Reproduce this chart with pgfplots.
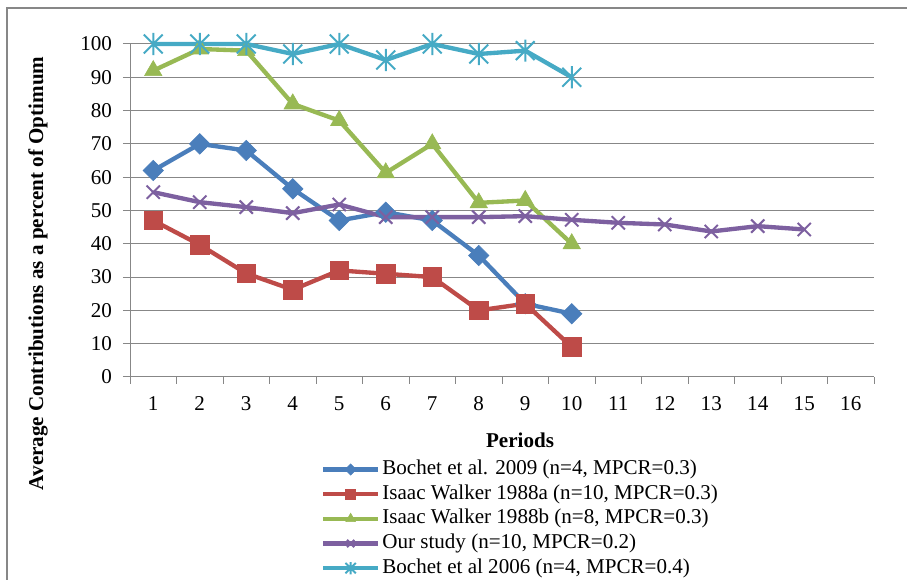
\documentclass[border=0pt]{standalone}
\usepackage{fontspec}
\setmainfont{Liberation Serif}
\usepackage{pgfplots}
\pgfplotsset{compat=1.18}
\definecolor{cBlue}{HTML}{4A7EBB}
\definecolor{cRed}{HTML}{BE4B48}
\definecolor{cGreen}{HTML}{98B954}
\definecolor{cPurple}{HTML}{7D60A0}
\definecolor{cCyan}{HTML}{46AAC5}
\definecolor{cGrid}{HTML}{878787}
\pgfdeclareplotmark{xstar}{%
 \pgfpathmoveto{\pgfqpoint{0pt}{\pgfplotmarksize}}\pgfpathlineto{\pgfqpoint{0pt}{-\pgfplotmarksize}}%
 \pgfpathmoveto{\pgfqpoint{-0.85\pgfplotmarksize}{-0.85\pgfplotmarksize}}\pgfpathlineto{\pgfqpoint{0.85\pgfplotmarksize}{0.85\pgfplotmarksize}}%
 \pgfpathmoveto{\pgfqpoint{-0.85\pgfplotmarksize}{0.85\pgfplotmarksize}}\pgfpathlineto{\pgfqpoint{0.85\pgfplotmarksize}{-0.85\pgfplotmarksize}}%
 \pgfusepathqstroke}
\newcommand{\fs}{\fontsize{15.8}{18}\selectfont}
\begin{document}
\begin{tikzpicture}
\useasboundingbox (0,0) rectangle (680.25pt,435pt);
\draw[cGrid, line width=1.5pt] (5.25pt,-5pt) -- (5.25pt,429pt) -- (685pt,429pt);
\node[rotate=90, font=\fs\bfseries] at (28.5pt,230pt) {Average Contributions as a percent of Optimum};
\node[font=\fs\bfseries] at (390pt,105pt) {Periods};
\begin{axis}[
  at={(97.5pt,152.25pt)}, anchor=south west,
  scale only axis, width=558pt, height=249.75pt,
  xmin=0.5, xmax=16.5, ymin=0, ymax=100,
  clip=false,
  axis lines*=left,
  axis line style={-, cGrid, line width=0.75pt},
  xtick={1,...,16}, minor xtick={0.5,1.5,...,16.5},
  ytick={0,10,...,100}, minor ytick={0,10,...,100},
  ymajorgrids, major grid style={cGrid, line width=0.75pt},
  tick align=outside, major tick length=0pt, minor tick length=5.25pt,
  minor tick style={cGrid, line width=0.75pt},
  /pgf/number format/assume math mode=true,
  tick label style={font=\fs, black},
  yticklabel style={xshift=-10pt},
  xticklabel style={yshift=-11pt},
  legend style={at={(0.251,-0.232)}, anchor=north west, draw=none, fill=none,
    font=\fs, row sep=0pt,
    nodes={inner sep=1.5pt, text height=11.5pt, text depth=4pt, anchor=west}},
  legend cell align=left,
  legend image code/.code={\draw[mark repeat=2, mark phase=2, every mark/.append style={scale=0.55}]
     plot coordinates {(0pt,0pt) (20.6pt,0pt) (41.25pt,0pt)};},
  every axis plot/.append style={line width=3.25pt},
]
\addplot[cBlue, mark=square*, mark size=5.4pt, mark options={rotate=45, line width=0.5pt, fill=cBlue}]
 coordinates {(1,62) (2,70) (3,68) (4,56.5) (5,47) (6,49.5) (7,47) (8,36.5) (9,22) (10,19)};
\addlegendentry{Bochet et al. 2009 (n=4, MPCR=0.3)}
\addplot[cRed, mark=square*, mark size=7pt, mark options={line width=0.5pt, fill=cRed}]
 coordinates {(1,47) (2,39.7) (3,31.1) (4,26.2) (5,32) (6,31) (7,30) (8,20) (9,22) (10,9)};
\addlegendentry{Isaac Walker 1988a (n=10, MPCR=0.3)}
\addplot[cGreen, mark=triangle*, mark size=7.5pt, mark options={line width=0.5pt, fill=cGreen}]
 coordinates {(1,92) (2,98.5) (3,98) (4,82) (5,77) (6,61.3) (7,70) (8,52.3) (9,53) (10,40)};
\addlegendentry{Isaac Walker 1988b (n=8, MPCR=0.3)}
\addplot[cPurple, mark=x, mark size=7pt, mark options={line width=1.5pt}]
 coordinates {(1,55.5) (2,52.5) (3,51) (4,49.2) (5,51.8) (6,48) (7,48) (8,48) (9,48.3) (10,47.2) (11,46.3) (12,45.8) (13,43.7) (14,45.3) (15,44.3)};
\addlegendentry{Our study (n=10, MPCR=0.2)}
\addplot[cCyan, mark=xstar, mark size=8.3pt, mark options={line width=1.5pt}]
 coordinates {(1,100) (2,100) (3,100) (4,97) (5,100) (6,95.2) (7,100) (8,97) (9,98) (10,90)};
\addlegendentry{Bochet et al 2006 (n=4, MPCR=0.4)}
\end{axis}
\end{tikzpicture}
\end{document}
